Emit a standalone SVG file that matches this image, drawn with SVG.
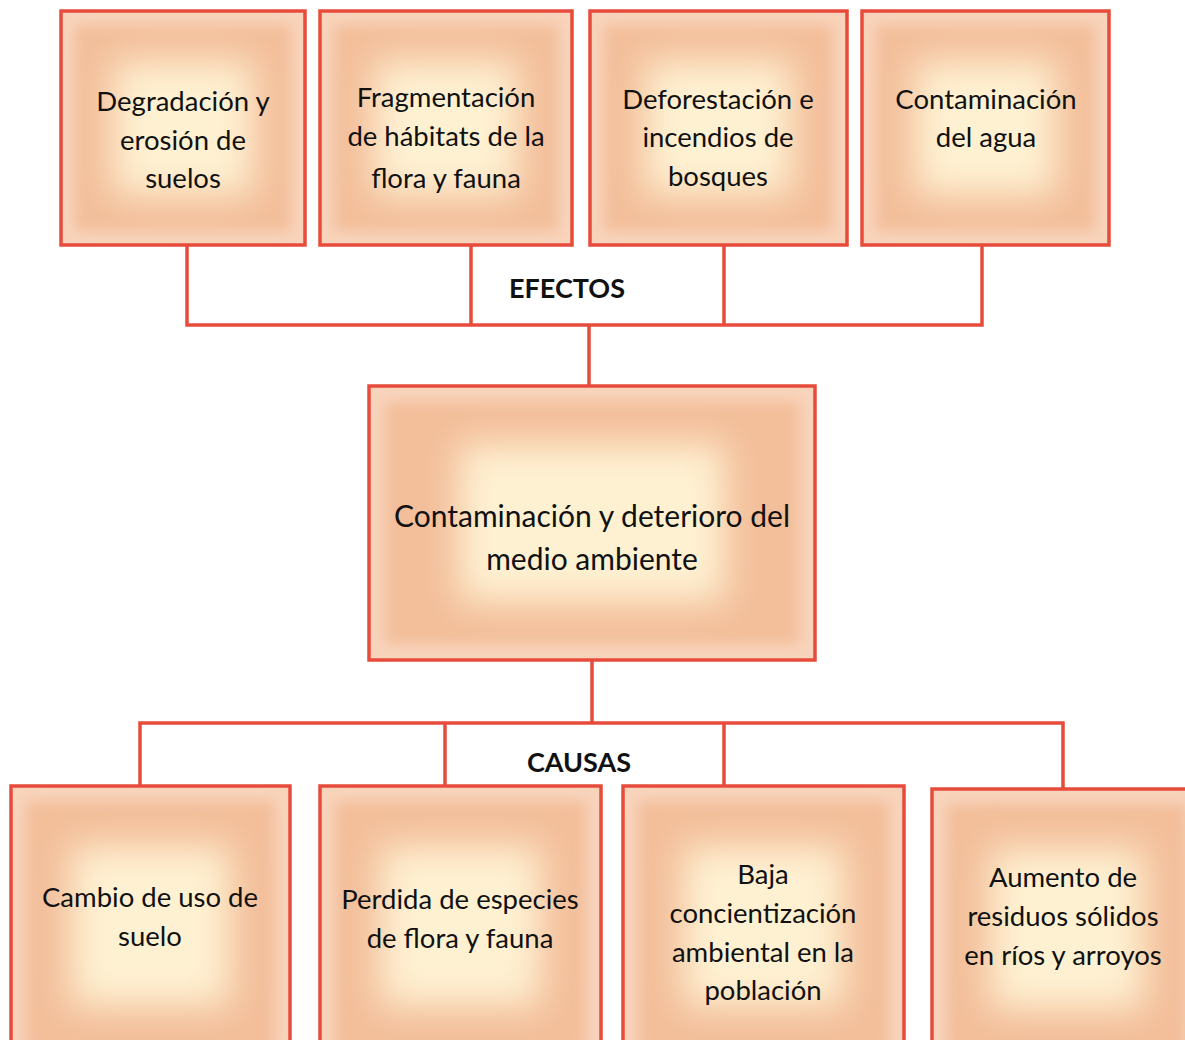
<svg xmlns="http://www.w3.org/2000/svg" width="1185" height="1040" viewBox="0 0 1185 1040">
<defs>
<filter id="bm" x="-50%" y="-50%" width="200%" height="200%"><feGaussianBlur stdDeviation="7"/></filter>
<filter id="bc" x="-80%" y="-80%" width="260%" height="260%"><feGaussianBlur stdDeviation="18"/></filter>
</defs>
<style>
.bg{fill:#F8D4BC}
.mid{fill:#F3BE9A;filter:url(#bm)}
.core{fill:#FEF1D2;filter:url(#bc)}
.frame{fill:none;stroke:#E64B3B;stroke-width:3.5}
.conn{fill:none;stroke:#E64B3B;stroke-width:3.5}
text{font-family:Lato,"Liberation Sans",sans-serif;font-size:27.5px;fill:#111;text-anchor:middle}
.big{font-size:30px}
.lbl{font-weight:bold;font-size:27px}
</style>
<rect width="1185" height="1040" fill="#fff"/>
<g id="connectors">
<polyline class="conn" points="187,245 187,325 982,325 982,245"/>
<line class="conn" x1="471" y1="245" x2="471" y2="325"/>
<line class="conn" x1="724" y1="245" x2="724" y2="325"/>
<line class="conn" x1="589" y1="325" x2="589" y2="386"/>
<line class="conn" x1="592" y1="660" x2="592" y2="723"/>
<polyline class="conn" points="140,786 140,723 1063,723 1063,789"/>
<line class="conn" x1="445" y1="723" x2="445" y2="786"/>
<line class="conn" x1="724" y1="723" x2="724" y2="786"/>
</g>
<text class="lbl" x="567" y="298">EFECTOS</text>
<text class="lbl" x="579" y="772">CAUSAS</text>
<g id="n1" transform="translate(61,11)">
<rect class="bg" width="244" height="234"/>
<rect class="mid" x="14" y="14" width="216" height="206"/>
<rect class="core" x="52" y="50" width="140" height="134"/>
<rect class="frame" width="244" height="234"/>
<text x="122" y="100">Degradación y</text>
<text x="122" y="139">erosión de</text>
<text x="122" y="177">suelos</text>
</g>
<g id="n2" transform="translate(320,11)">
<rect class="bg" width="252" height="234"/>
<rect class="mid" x="14" y="14" width="224" height="206"/>
<rect class="core" x="54" y="50" width="144" height="134"/>
<rect class="frame" width="252" height="234"/>
<text x="126" y="96">Fragmentación</text>
<text x="126" y="135">de hábitats de la</text>
<text x="126" y="177">flora y fauna</text>
</g>
<g id="n3" transform="translate(590,11)">
<rect class="bg" width="257" height="234"/>
<rect class="mid" x="14" y="14" width="229" height="206"/>
<rect class="core" x="55" y="50" width="147" height="134"/>
<rect class="frame" width="257" height="234"/>
<text x="128" y="98">Deforestación e</text>
<text x="128" y="136">incendios de</text>
<text x="128" y="175">bosques</text>
</g>
<g id="n4" transform="translate(862,11)">
<rect class="bg" width="247" height="234"/>
<rect class="mid" x="14" y="14" width="219" height="206"/>
<rect class="core" x="53" y="50" width="141" height="134"/>
<rect class="frame" width="247" height="234"/>
<text x="124" y="98">Contaminación</text>
<text x="124" y="136">del agua</text>
</g>
<g id="n0" transform="translate(369,386)">
<rect class="bg" width="446" height="274"/>
<rect class="mid" x="16" y="16" width="414" height="242"/>
<rect class="core" x="90" y="58" width="266" height="158"/>
<rect class="frame" width="446" height="274"/>
<text class="big" x="223" y="141">Contaminación y deterioro del</text>
<text class="big" x="223" y="184">medio ambiente</text>
</g>
<g id="n5" transform="translate(11,786)">
<rect class="bg" width="279" height="280"/>
<rect class="mid" x="15" y="15" width="249" height="250"/>
<rect class="core" x="60" y="60" width="159" height="160"/>
<rect class="frame" width="279" height="280"/>
<text x="139" y="121">Cambio de uso de</text>
<text x="139" y="160">suelo</text>
</g>
<g id="n6" transform="translate(320,786)">
<rect class="bg" width="281" height="280"/>
<rect class="mid" x="15" y="15" width="251" height="250"/>
<rect class="core" x="60" y="60" width="161" height="160"/>
<rect class="frame" width="281" height="280"/>
<text x="140" y="123">Perdida de especies</text>
<text x="140" y="162">de flora y fauna</text>
</g>
<g id="n7" transform="translate(623,786)">
<rect class="bg" width="281" height="280"/>
<rect class="mid" x="15" y="15" width="251" height="250"/>
<rect class="core" x="60" y="60" width="161" height="160"/>
<rect class="frame" width="281" height="280"/>
<text x="140" y="98">Baja</text>
<text x="140" y="137">concientización</text>
<text x="140" y="176">ambiental en la</text>
<text x="140" y="214">población</text>
</g>
<g id="n8" transform="translate(932,789)">
<rect class="bg" width="270" height="280"/>
<rect class="mid" x="15" y="15" width="240" height="250"/>
<rect class="core" x="58" y="60" width="154" height="160"/>
<rect class="frame" width="270" height="280"/>
<text x="131" y="98">Aumento de</text>
<text x="131" y="137">residuos sólidos</text>
<text x="131" y="176">en ríos y arroyos</text>
</g>
</svg>
